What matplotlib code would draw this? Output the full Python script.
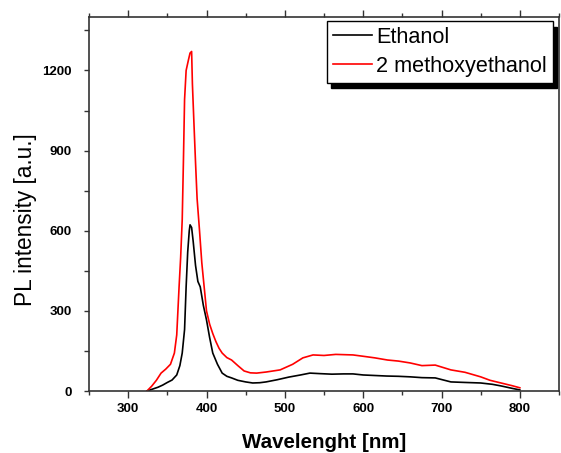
import numpy as np
import matplotlib.pyplot as plt
from matplotlib.ticker import MultipleLocator

# PL spectra
wl_eth = [324, 330, 338, 344, 350, 356, 362, 366, 369, 372, 374, 376, 378, 379, 381,
          383, 386, 389, 392, 396, 400, 404, 408, 414, 420, 426, 432, 440, 450, 459,
          468, 476, 490, 505, 520, 532, 545, 560, 575, 587, 600, 615, 630, 645, 660,
          675, 692, 712, 730, 750, 765, 776, 790, 800]
pl_eth = [0, 6, 14, 22, 32, 41, 60, 95, 142, 230, 390, 520, 600, 622, 612,
          560, 470, 410, 390, 320, 266, 200, 142, 100, 67, 55, 49, 40, 34, 30,
          31, 34, 42, 52, 60, 67, 65, 63, 64, 64, 60, 58, 56, 55, 53,
          50, 49, 34, 32, 30, 25, 19, 10, 4]

wl_met = [324, 330, 336, 342, 348, 354, 359, 362, 365, 367, 369, 370.5, 372, 374,
          377, 379, 381, 382, 384, 386, 388, 391, 394, 397, 400, 404, 408, 412,
          416, 420, 426, 432, 440, 448, 456, 464, 476, 494, 510, 523, 536, 550,
          565, 587, 600, 615, 631, 645, 660, 675, 692, 712, 730, 750, 762, 776,
          790, 800]
pl_met = [0, 18, 40, 67, 82, 100, 142, 210, 390, 500, 641, 855, 1091, 1200,
          1240, 1265, 1271, 1150, 1000, 855, 720, 604, 480, 390, 300, 250, 215, 185,
          160, 142, 125, 116, 95, 75, 68, 67, 71, 79, 100, 124, 135, 133,
          137, 135, 130, 124, 116, 112, 105, 95, 97, 79, 70, 53, 40, 30,
          20, 12]

fig = plt.figure(figsize=(5.61, 4.53), dpi=100)
ax = fig.add_axes((89/561, 1-391/453, 470/561, 374/453))

ax.plot(wl_eth, pl_eth, color='black', lw=1.2, label='Ethanol')
ax.plot(wl_met, pl_met, color='red', lw=1.2, label='2 methoxyethanol')

ax.set_xlim(250, 850)
ax.set_ylim(0, 1400)
ax.xaxis.set_minor_locator(MultipleLocator(50))
ax.yaxis.set_minor_locator(MultipleLocator(150))
ax.set_xticks([300, 400, 500, 600, 700, 800])
ax.set_yticks([0, 300, 600, 900, 1200])

for s in ax.spines.values():
    s.set_linewidth(1.2)
    s.set_color('#333333')

ax.tick_params(which='both', direction='out', top=True, right=False,
               labeltop=False, width=1.0, color='#333333')
ax.tick_params(which='major', length=5)
ax.tick_params(which='minor', length=3)
ax.tick_params(axis='y', which='both', length=3.5, pad=9)
for lab in ax.get_xticklabels() + ax.get_yticklabels():
    lab.set_fontfamily('Liberation Sans')
    lab.set_fontweight('bold')
    lab.set_fontsize(9.5)

ax.set_xlabel('Wavelenght [nm]', fontfamily='Liberation Sans', fontweight='bold',
              fontsize=14.8, labelpad=13)
ax.set_ylabel('PL intensity [a.u.]', fontfamily='Liberation Sans', fontsize=16.3)
ax.yaxis.set_label_coords(-0.11, 0.457)

leg = ax.legend(loc='upper right', bbox_to_anchor=(553/561, 1-21/453),
                bbox_transform=fig.transFigure, borderaxespad=0,
                fancybox=False, edgecolor='black', framealpha=1,
                shadow={'color': 'black', 'alpha': 1, 'ox': 3, 'oy': -4},
                prop={'family': 'Liberation Sans', 'size': 15.6},
                handlelength=1.8, handletextpad=0.2, borderpad=0.28,
                labelspacing=0.35)
leg.get_frame().set_linewidth(1.0)

plt.savefig('out.png', dpi=100)
